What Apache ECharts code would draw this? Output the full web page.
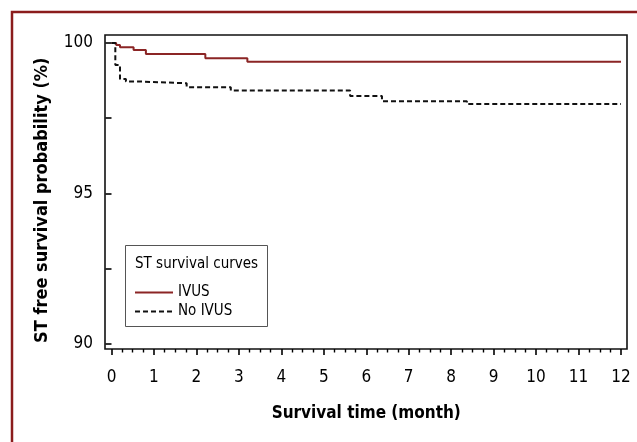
<!DOCTYPE html>
<html>
<head>
<meta charset="utf-8">
<script src="https://cdn.jsdelivr.net/npm/echarts@6/dist/echarts.min.js"></script>
<style>
html,body{margin:0;padding:0;background:#fff;}
#c{width:637px;height:442px;}
</style>
</head>
<body>
<div id="c"></div>
<script>
// Data (Kaplan-Meier step curves)
const ivusMonths   = [0, 0.11, 0.20, 0.52, 0.81, 2.21, 3.20, 12];
const ivusSurv     = [100, 99.93, 99.86, 99.77, 99.63, 99.49, 99.38, 99.38];
const noIvusMonths = [0, 0.09, 0.20, 0.34, 0.62, 1.77, 2.81, 5.62, 6.37, 8.37, 12];
const noIvusSurv   = [100, 99.27, 98.80, 98.72, 98.66, 98.53, 98.42, 98.24, 98.06, 97.97, 97.97];
const seriesNames  = ['IVUS', 'No IVUS'];
const legendTitle  = 'ST survival curves';
const xTitle = 'Survival time (month)';
const yTitle = 'ST free survival probability (%)';

const zip = (xs, ys) => xs.map((x, i) => [x, ys[i]]);
const FONT = "'DejaVu Sans Condensed', 'Liberation Sans', Arial, sans-serif";

const chart = echarts.init(document.getElementById('c'), null, {renderer: 'canvas'});
chart.setOption({
  backgroundColor: '#fff',
  animation: false,
  title: {
    text: legendTitle, left: 130, top: 252,
    textStyle: {fontFamily: FONT, fontSize: 15, fontWeight: 'normal', color: '#000'}
  },
  legend: {
    orient: 'vertical', left: 124, top: 246,
    padding: [39, 10, 9, 10],
    itemWidth: 38, itemHeight: 14, itemGap: 4, itemTextGap: 20,
    data: seriesNames,
    itemStyle: {opacity: 0},
    textStyle: {fontFamily: FONT, fontSize: 15, color: '#000', lineHeight: 14}
  },
  graphic: [
    {type: 'rect', z: 100, silent: true, shape: {x: 12, y: 12, width: 700, height: 500},
     style: {fill: 'none', stroke: '#8b1c1c', lineWidth: 2.5}},
    {type: 'rect', z: 100, silent: true, shape: {x: 125.5, y: 245.5, width: 142, height: 81},
     style: {fill: 'none', stroke: '#555', lineWidth: 1}}
  ],
  grid: [
    {left: 111.5, top: 43, right: 16, bottom: 98.5, show: false},
    {left: 105, top: 35, right: 10, bottom: 93, show: true, borderColor: '#111', borderWidth: 1.6, backgroundColor: 'transparent'}
  ],
  xAxis: [
    {
      type: 'value', gridIndex: 0, min: 0, max: 12, interval: 1, offset: 5.5,
      axisLine: {show: false},
      axisTick: {show: true, length: 6, lineStyle: {color: '#000', width: 1.6}},
      minorTick: {show: true, splitNumber: 4, length: 3.5, lineStyle: {color: '#000', width: 1.4}},
      splitLine: {show: false},
      axisLabel: {margin: 20, fontFamily: FONT, fontSize: 17, color: '#000'},
      name: xTitle, nameLocation: 'middle', nameGap: 56,
      nameTextStyle: {fontFamily: FONT, fontSize: 17, fontWeight: 'bold', color: '#000'}
    },
    {type: 'value', gridIndex: 1, show: false, min: 0, max: 1}
  ],
  yAxis: [
    {
      type: 'value', gridIndex: 0, min: 90, max: 100, interval: 5, offset: 6.5,
      axisLine: {show: false},
      axisTick: {show: true, length: 6, lineStyle: {color: '#000', width: 1.6}},
      minorTick: {show: true, splitNumber: 2, length: 6, lineStyle: {color: '#000', width: 1.6}},
      splitLine: {show: false},
      axisLabel: {margin: 12, fontFamily: FONT, fontSize: 17, color: '#000'},
      name: yTitle, nameLocation: 'middle', nameGap: 54,
      nameTextStyle: {fontFamily: FONT, fontSize: 18, fontWeight: 'bold', color: '#000', padding: [0, 14, 0, 0]}
    },
    {type: 'value', gridIndex: 1, show: false, min: 0, max: 1}
  ],
  series: [
    {
      name: seriesNames[0], type: 'line', step: 'end', xAxisIndex: 0, yAxisIndex: 0,
      data: zip(ivusMonths, ivusSurv), showSymbol: false, symbol: 'none', clip: false,
      lineStyle: {color: '#8b2525', width: 2}, itemStyle: {color: '#8b2525'}
    },
    {
      name: seriesNames[1], type: 'line', step: 'end', xAxisIndex: 0, yAxisIndex: 0,
      data: zip(noIvusMonths, noIvusSurv), showSymbol: false, symbol: 'none', clip: false,
      lineStyle: {color: '#111', width: 2, type: [5, 3]}, itemStyle: {color: '#111'}
    }
  ]
});
</script>
</body>
</html>
